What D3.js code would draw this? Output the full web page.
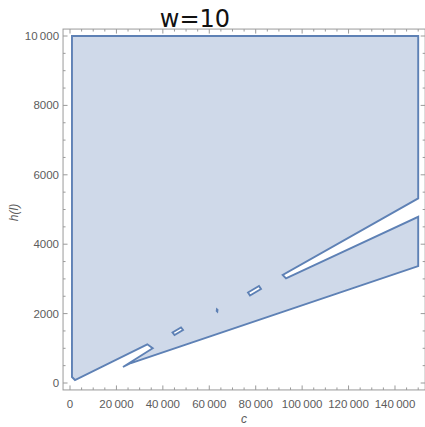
<!DOCTYPE html>
<html>
<head>
<meta charset="utf-8">
<script src="https://cdn.jsdelivr.net/npm/d3@7"></script>
<style>
  html, body { margin: 0; padding: 0; background: #fff; }
  svg { display: block; }
</style>
</head>
<body>
<svg id="chart" width="425" height="427"></svg>
<script>
// Region boundary for w=10, as (c, h(l)) vertices
const outerBoundary = [
  [850, 10000], [150000, 10000], [150000, 5320],
  [91630, 3113], [93050, 3017], [150000, 4790],
  [150000, 3370], [26280, 576], [22830, 461],
  [35630, 1000], [33300, 1115], [2150, 86], [850, 173]
];
const holeA = [[44160, 1455], [45020, 1383], [48680, 1527], [47820, 1600]];
const holeB = [[76680, 2608], [77540, 2522], [82280, 2709], [81420, 2796]];
const holeC = [[63200, 2075], [63450, 2060], [63550, 2105], [63300, 2120]];

const xTicks = [0, 20000, 40000, 60000, 80000, 100000, 120000, 140000];
const yTicks = [0, 2000, 4000, 6000, 8000, 10000];
const xMinorStep = 5000;
const yMinorStep = 500;
const titleText = "w=10";
const xLabel = "c";
const yLabel = "h(l)";

const svg = d3.select("#chart");
const x = d3.scaleLinear().domain([0, 150000]).range([70, 418.2]);
const y = d3.scaleLinear().domain([0, 10000]).range([383, 36]);

// frame spans the data range plus 2% padding
const fx0 = x(-3000), fx1 = x(153000), fy0 = y(-200), fy1 = y(10200);

const fmt = v => {
  const s = String(v);
  return s.length >= 5 ? s.slice(0, s.length - 3) + "\u2009" + s.slice(-3) : s;
};

// region
const line = d3.line().x(d => x(d[0])).y(d => y(d[1]));
const pathD = [outerBoundary, holeA, holeB, holeC].map(r => line(r) + "Z").join(" ");
svg.append("path")
  .attr("d", pathD)
  .attr("fill", "#cfd9e9")
  .attr("fill-rule", "evenodd")
  .attr("stroke", "#5e81b5")
  .attr("stroke-width", 1.9)
  .attr("stroke-linejoin", "miter");

// frame
const frameColor = "#9a9a9a";
const g = svg.append("g");
g.append("rect")
  .attr("x", fx0).attr("y", fy1)
  .attr("width", fx1 - fx0).attr("height", fy0 - fy1)
  .attr("fill", "none").attr("stroke", frameColor).attr("stroke-width", 1);

const xMinor = d3.range(0, 150001, xMinorStep).filter(v => !xTicks.includes(v));
const yMinor = d3.range(0, 10001, yMinorStep).filter(v => !yTicks.includes(v));

function tickSet(vals, len) {
  vals.forEach(v => {
    const px = x(v);
    g.append("line").attr("x1", px).attr("x2", px).attr("y1", fy0).attr("y2", fy0 - len)
      .attr("stroke", frameColor);
    g.append("line").attr("x1", px).attr("x2", px).attr("y1", fy1).attr("y2", fy1 + len)
      .attr("stroke", frameColor);
  });
}
function tickSetY(vals, len) {
  vals.forEach(v => {
    const py = y(v);
    g.append("line").attr("x1", fx0).attr("x2", fx0 + len).attr("y1", py).attr("y2", py)
      .attr("stroke", frameColor);
    g.append("line").attr("x1", fx1).attr("x2", fx1 - len).attr("y1", py).attr("y2", py)
      .attr("stroke", frameColor);
  });
}
tickSet(xTicks, 4.5);
tickSet(xMinor, 2.5);
tickSetY(yTicks, 4.5);
tickSetY(yMinor, 2.5);

const labelFont = "'Liberation Sans', Arial, sans-serif";
g.selectAll(".xl").data(xTicks).join("text")
  .attr("x", d => x(d)).attr("y", 408)
  .attr("text-anchor", "middle")
  .attr("font-family", labelFont).attr("font-size", 11.5).attr("fill", "#5c5c5c")
  .text(fmt);
g.selectAll(".yl").data(yTicks).join("text")
  .attr("x", fx0 - 4).attr("y", d => y(d) + 4)
  .attr("text-anchor", "end")
  .attr("font-family", labelFont).attr("font-size", 11.5).attr("fill", "#5c5c5c")
  .text(fmt);

svg.append("text")
  .attr("x", (fx0 + fx1) / 2).attr("y", 423)
  .attr("text-anchor", "middle")
  .attr("font-family", labelFont).attr("font-style", "italic")
  .attr("font-size", 12).attr("fill", "#5c5c5c")
  .text(xLabel);
svg.append("text")
  .attr("transform", `translate(18,${(fy0 + fy1) / 2 + 3}) rotate(-90)`)
  .attr("text-anchor", "middle")
  .attr("font-family", labelFont).attr("font-style", "italic")
  .attr("font-size", 12).attr("fill", "#5c5c5c")
  .text(yLabel);

svg.append("text")
  .attr("x", 195).attr("y", 27)
  .attr("text-anchor", "middle")
  .attr("font-family", "'DejaVu Sans', sans-serif")
  .attr("font-size", 24).attr("fill", "#111")
  .text(titleText);
</script>
</body>
</html>
